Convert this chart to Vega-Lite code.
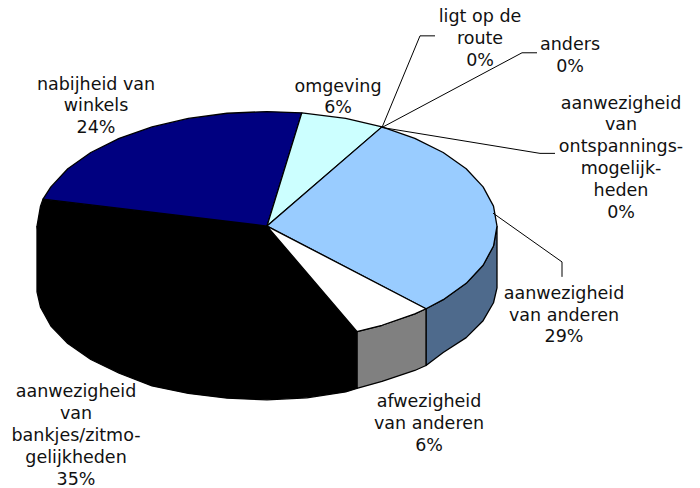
{"$schema":"https://vega.github.io/schema/vega-lite/v6.json","width":700,"height":488,"autosize":{"type":"fit","contains":"padding"},"padding":0,"background":"white","config":{"view":{"stroke":null}},
"layer":[
{"data":{"values":[
{"p":"side blue","i":1,"x":230,"y":0},{"p":"side blue","i":2,"x":226.5,"y":-20},{"p":"side blue","i":3,"x":216.1,"y":-39.3},{"p":"side blue","i":4,"x":199.2,"y":-57.5},{"p":"side blue","i":5,"x":176.2,"y":-73.9},{"p":"side blue","i":6,"x":159,"y":-83},{"p":"side blue","i":7,"x":159,"y":-140},{"p":"side blue","i":8,"x":176.2,"y":-127},{"p":"side blue","i":9,"x":199.2,"y":-112},{"p":"side blue","i":10,"x":216.1,"y":-95},{"p":"side blue","i":11,"x":226.5,"y":-77},{"p":"side blue","i":12,"x":230,"y":-62},{"p":"side blue","i":13,"x":230,"y":0},
{"p":"side gray","i":1,"x":159,"y":-83},{"p":"side gray","i":2,"x":147.8,"y":-88.1},{"p":"side gray","i":3,"x":115,"y":-99.6},{"p":"side gray","i":4,"x":89.9,"y":-105.9},{"p":"side gray","i":5,"x":89.9,"y":-163},{"p":"side gray","i":6,"x":115,"y":-156},{"p":"side gray","i":7,"x":147.8,"y":-145},{"p":"side gray","i":8,"x":159,"y":-140},{"p":"side gray","i":9,"x":159,"y":-83},
{"p":"side black","i":1,"x":89.9,"y":-105.9},{"p":"side black","i":2,"x":89.9,"y":-163},{"p":"side black","i":3,"x":78.7,"y":-166.5},{"p":"side black","i":4,"x":39.9,"y":-172.5},{"p":"side black","i":5,"x":0,"y":-174.5},{"p":"side black","i":6,"x":-39.9,"y":-172.8},{"p":"side black","i":7,"x":-78.7,"y":-168},{"p":"side black","i":8,"x":-115,"y":-160.5},{"p":"side black","i":9,"x":-147.8,"y":-147.8},{"p":"side black","i":10,"x":-176.2,"y":-134},{"p":"side black","i":11,"x":-199.2,"y":-118},{"p":"side black","i":12,"x":-216.1,"y":-100.3},{"p":"side black","i":13,"x":-226.5,"y":-81.4},{"p":"side black","i":14,"x":-230,"y":-66},{"p":"side black","i":15,"x":-230,"y":0},
{"p":"aanwezigheid van bankjes","i":1,"x":0,"y":0},{"p":"aanwezigheid van bankjes","i":2,"x":89.9,"y":-105.9},{"p":"aanwezigheid van bankjes","i":3,"x":78.7,"y":-108.1},{"p":"aanwezigheid van bankjes","i":4,"x":39.9,"y":-113.3},{"p":"aanwezigheid van bankjes","i":5,"x":0,"y":-115},{"p":"aanwezigheid van bankjes","i":6,"x":-39.9,"y":-113.3},{"p":"aanwezigheid van bankjes","i":7,"x":-78.7,"y":-108.1},{"p":"aanwezigheid van bankjes","i":8,"x":-115,"y":-99.6},{"p":"aanwezigheid van bankjes","i":9,"x":-147.8,"y":-88.1},{"p":"aanwezigheid van bankjes","i":10,"x":-176.2,"y":-73.9},{"p":"aanwezigheid van bankjes","i":11,"x":-199.2,"y":-57.5},{"p":"aanwezigheid van bankjes","i":12,"x":-216.1,"y":-39.3},{"p":"aanwezigheid van bankjes","i":13,"x":-226.5,"y":-20},{"p":"aanwezigheid van bankjes","i":14,"x":-230,"y":0},{"p":"aanwezigheid van bankjes","i":15,"x":-226.5,"y":20},{"p":"aanwezigheid van bankjes","i":16,"x":-224,"y":27},{"p":"aanwezigheid van bankjes","i":17,"x":0,"y":0},
{"p":"nabijheid van winkels","i":1,"x":0,"y":0},{"p":"nabijheid van winkels","i":2,"x":-224,"y":27},{"p":"nabijheid van winkels","i":3,"x":-216.1,"y":39.3},{"p":"nabijheid van winkels","i":4,"x":-199.2,"y":57.5},{"p":"nabijheid van winkels","i":5,"x":-176.2,"y":73.9},{"p":"nabijheid van winkels","i":6,"x":-147.8,"y":88.1},{"p":"nabijheid van winkels","i":7,"x":-115,"y":99.6},{"p":"nabijheid van winkels","i":8,"x":-78.7,"y":108.1},{"p":"nabijheid van winkels","i":9,"x":-39.9,"y":113.3},{"p":"nabijheid van winkels","i":10,"x":0,"y":115},{"p":"nabijheid van winkels","i":11,"x":34.8,"y":113.7},{"p":"nabijheid van winkels","i":12,"x":0,"y":0},
{"p":"omgeving","i":1,"x":0,"y":0},{"p":"omgeving","i":2,"x":34.8,"y":113.7},{"p":"omgeving","i":3,"x":78.7,"y":108.1},{"p":"omgeving","i":4,"x":115,"y":99.6},{"p":"omgeving","i":5,"x":0,"y":0},
{"p":"aanwezigheid van anderen","i":1,"x":0,"y":0},{"p":"aanwezigheid van anderen","i":2,"x":115,"y":99.6},{"p":"aanwezigheid van anderen","i":3,"x":147.8,"y":88.1},{"p":"aanwezigheid van anderen","i":4,"x":176.2,"y":73.9},{"p":"aanwezigheid van anderen","i":5,"x":199.2,"y":57.5},{"p":"aanwezigheid van anderen","i":6,"x":216.1,"y":39.3},{"p":"aanwezigheid van anderen","i":7,"x":226.5,"y":20},{"p":"aanwezigheid van anderen","i":8,"x":230,"y":0},{"p":"aanwezigheid van anderen","i":9,"x":226.5,"y":-20},{"p":"aanwezigheid van anderen","i":10,"x":216.1,"y":-39.3},{"p":"aanwezigheid van anderen","i":11,"x":199.2,"y":-57.5},{"p":"aanwezigheid van anderen","i":12,"x":176.2,"y":-73.9},{"p":"aanwezigheid van anderen","i":13,"x":159,"y":-83},{"p":"aanwezigheid van anderen","i":14,"x":0,"y":0},
{"p":"afwezigheid van anderen","i":1,"x":0,"y":0},{"p":"afwezigheid van anderen","i":2,"x":159,"y":-83},{"p":"afwezigheid van anderen","i":3,"x":147.8,"y":-88.1},{"p":"afwezigheid van anderen","i":4,"x":115,"y":-99.6},{"p":"afwezigheid van anderen","i":5,"x":89.9,"y":-105.9},{"p":"afwezigheid van anderen","i":6,"x":0,"y":0}
]},
"mark":{"type":"line","stroke":"black","strokeWidth":1.3,"strokeJoin":"round"},
"encoding":{
"x":{"field":"x","type":"quantitative","scale":{"domain":[-267,433],"nice":false,"zero":false},"axis":null},
"y":{"field":"y","type":"quantitative","scale":{"domain":[-261,227],"nice":false,"zero":false},"axis":null},
"order":{"field":"i","type":"quantitative"},
"detail":{"field":"p","type":"nominal"},
"fill":{"field":"p","type":"nominal","legend":null,"scale":{"domain":["side blue","side gray","side black","aanwezigheid van bankjes","nabijheid van winkels","omgeving","aanwezigheid van anderen","afwezigheid van anderen"],"range":["#4e6a8c","#808080","#000000","#000000","#000080","#ccffff","#99ccff","#ffffff"]}}
}},
{"data":{"values":[
{"l":"ligt","i":1,"x":115,"y":99},{"l":"ligt","i":2,"x":153,"y":191},{"l":"ligt","i":3,"x":168,"y":191},
{"l":"anders","i":1,"x":115,"y":99},{"l":"anders","i":2,"x":255,"y":174},{"l":"anders","i":3,"x":270,"y":174},
{"l":"ontsp","i":1,"x":115,"y":99},{"l":"ontsp","i":2,"x":273,"y":73},{"l":"ontsp","i":3,"x":288,"y":73},
{"l":"anderen","i":1,"x":226,"y":13},{"l":"anderen","i":2,"x":295,"y":-36},{"l":"anderen","i":3,"x":295,"y":-51}
]},
"mark":{"type":"line","color":"black","strokeWidth":1},
"encoding":{
"x":{"field":"x","type":"quantitative","scale":{"domain":[-267,433],"nice":false,"zero":false},"axis":null},
"y":{"field":"y","type":"quantitative","scale":{"domain":[-261,227],"nice":false,"zero":false},"axis":null},
"order":{"field":"i","type":"quantitative"},
"detail":{"field":"l","type":"nominal"}
}},
{"data":{"values":[
{"t":"ligt op de\nroute\n0%","x":213,"y":219},
{"t":"anders\n0%","x":303,"y":191},
{"t":"aanwezigheid\nvan\nontspannings-\nmogelijk-\nheden\n0%","x":354,"y":132},
{"t":"omgeving\n6%","x":71,"y":149},
{"t":"nabijheid van\nwinkels\n24%","x":-171,"y":151},
{"t":"aanwezigheid\nvan anderen\n29%","x":297,"y":-59},
{"t":"afwezigheid\nvan anderen\n6%","x":162,"y":-168},
{"t":"aanwezigheid\nvan\nbankjes/zitmo-\ngelijkheden\n35%","x":-191,"y":-158}
]},
"mark":{"type":"text","font":"DejaVu Sans","fontSize":17.5,"color":"#111111","align":"center","baseline":"top","lineBreak":"\n","lineHeight":21.8},
"encoding":{
"x":{"field":"x","type":"quantitative","scale":{"domain":[-267,433],"nice":false,"zero":false},"axis":null},
"y":{"field":"y","type":"quantitative","scale":{"domain":[-261,227],"nice":false,"zero":false},"axis":null},
"text":{"field":"t","type":"nominal"}
}}
]}
